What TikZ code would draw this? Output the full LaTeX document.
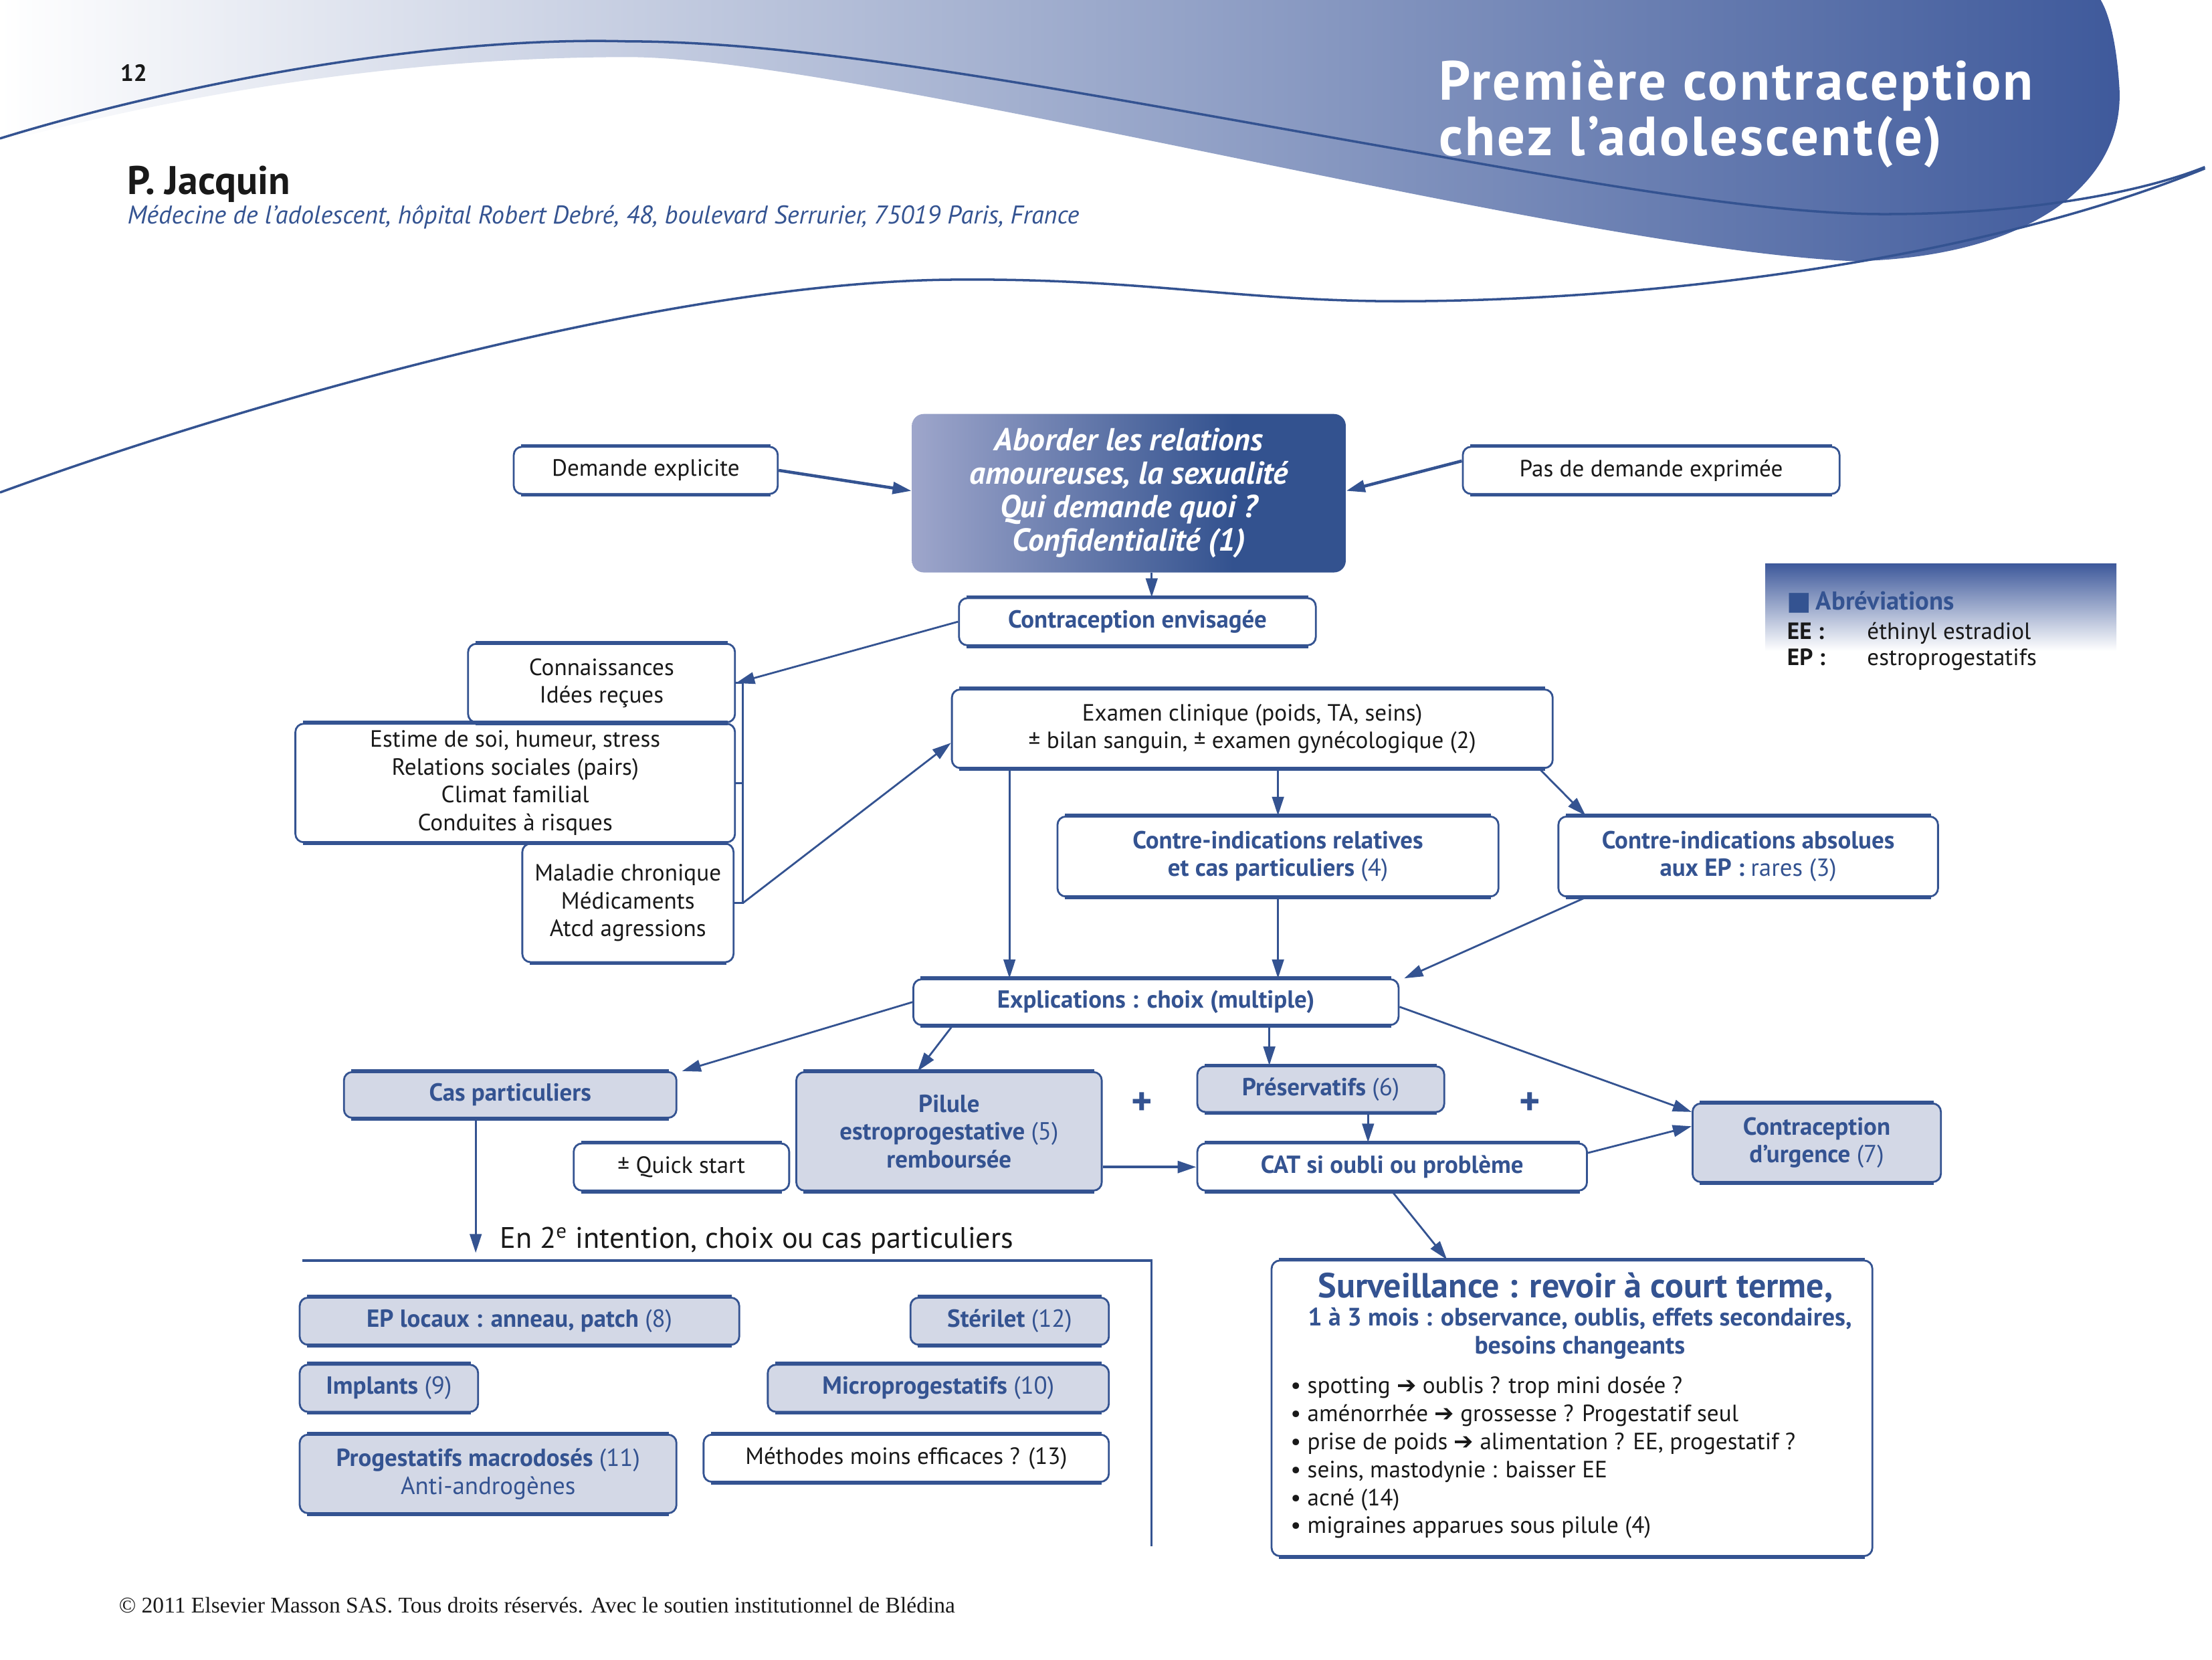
\documentclass[tikz,border=0pt]{standalone}
\usepackage{fontspec}
\setmainfont{PT Sans}
\newfontfamily\symf{DejaVu Sans}
\newfontfamily\serf{Liberation Serif}
\newfontfamily\ttlf[LetterSpace=4]{PT Sans}
\usetikzlibrary{arrows.meta,calc}
\definecolor{mb}{RGB}{52,83,145}
\definecolor{lf}{RGB}{211,216,230}
\definecolor{hdr}{RGB}{62,89,155}
\definecolor{abL}{RGB}{158,166,203}
\definecolor{abD}{RGB}{51,82,143}
\definecolor{txt}{RGB}{25,25,25}
\pgfdeclarehorizontalshading{abord}{100bp}{color(0bp)=(abL); color(25bp)=(abL); color(62bp)=(abD); color(100bp)=(abD)}
\pgfdeclareverticalshading{abrev}{100bp}{color(0bp)=(white); color(40bp)=(white); color(75bp)=(hdr); color(100bp)=(hdr)}
\newcommand\bx[7]{\node[#6, minimum width={(#4-#2)*0.021335cm}, minimum height={(#5-#3)*0.021335cm}] (#1) at ({(#2+#4)/2},{(#3+#5)/2}) {#7};}
\tikzset{
  bxw/.style={draw=mb, line width=0.8pt, rounded corners=3.5pt, inner sep=1pt, align=center,
    font=\fontsize{10}{11.8}\selectfont, text=txt, fill=white},
  bxb/.style={bxw, text=mb, font=\fontsize{10.5}{11.8}\selectfont\bfseries},
  bxf/.style={bxb, fill=lf},
  arr/.style={draw=mb, line width=0.8pt, -{Triangle[length=8pt,width=5pt]}},
  arrt/.style={arr, line width=1.3pt},
  thk/.style={draw=mb, line width=1.6pt},
}
\begin{document}
\begin{tikzpicture}[x=0.021335cm,y=-0.021335cm]
\useasboundingbox (0,0) rectangle (1550,1162.4);
% header band
\shade[left color=white, right color=hdr] (0,0) -- (1472,0)
  .. controls (1478,10) and (1483,30) .. (1485,60)
  .. controls (1490,130) and (1420,180) .. (1300,183)
  .. controls (1100,175) and (600,40) .. (440,40)
  .. controls (300,40) and (150,60) .. (0,100) -- cycle;
\draw[mb, line width=1pt] (0,97) .. controls (120,60) and (300,25) .. (440,29)
  .. controls (580,29) and (780,70) .. (1000,108)
  .. controls (1150,135) and (1250,150) .. (1320,150)
  .. controls (1420,150) and (1500,135) .. (1545,117);
\draw[mb, line width=1pt] (0,345) .. controls (150,290) and (450,200) .. (660,196)
  .. controls (800,194) and (870,212) .. (990,211)
  .. controls (1150,210) and (1380,185) .. (1545,118);
\node[anchor=base west, inner sep=0, font=\fontsize{10}{12}\selectfont\bfseries, text=txt] (pg) at (84,57) {12};
\node[anchor=base west, inner sep=0, font=\ttlf\fontsize{23.5}{22}\selectfont\bfseries, text=white] (t1) at (1008,70) {Première contraception};
\node[anchor=base west, inner sep=0, font=\ttlf\fontsize{23.5}{22}\selectfont\bfseries, text=white] (t2) at (1008,109) {chez l’adolescent(e)};
\node[anchor=base west, inner sep=0, font=\fontsize{17}{20}\selectfont\bfseries, text=txt] (au) at (89,136) {P. Jacquin};
\node[anchor=base west, inner sep=0, font=\fontsize{10.9}{12}\selectfont\itshape, text=mb] (af) at (89,157) {Médecine de l’adolescent, hôpital Robert Debré, 48, boulevard Serrurier, 75019 Paris, France};
% abbreviations
\shade[shading=abrev] (1237,395) rectangle (1483,482);
\node[anchor=base west, inner sep=0, font=\fontsize{11}{13}\selectfont\bfseries, text=mb] (abt) at (1252,427) {{\symf ■}\,Abréviations};
\node[anchor=base west, inner sep=0, font=\fontsize{10}{12}\selectfont\bfseries, text=txt] (ee) at (1252,448) {EE :};
\node[anchor=base west, inner sep=0, font=\fontsize{10}{12}\selectfont, text=txt] (eet) at (1308,448) {éthinyl estradiol};
\node[anchor=base west, inner sep=0, font=\fontsize{10}{12}\selectfont\bfseries, text=txt] (ep) at (1252,466) {EP :};
\node[anchor=base west, inner sep=0, font=\fontsize{10}{12}\selectfont, text=txt] (ept) at (1308,466) {estroprogestatifs};
% top
\node[shade, shading=abord, rounded corners=5pt, minimum width={304*0.021335cm}, minimum height={111*0.021335cm}, align=center, text=white, font=\fontsize{13.5}{14.2}\selectfont\bfseries\itshape] (abo) at (791,345.5) {Aborder les relations\\amoureuses, la sexualité\\Qui demande quoi ?\\Confidentialité (1)};
\bx{dem}{360}{313}{545}{346}{bxw}{Demande explicite}
\bx{pas}{1025}{313}{1289}{346}{bxw}{Pas de demande exprimée}
\bx{cenv}{672}{419}{922}{452}{bxb}{Contraception envisagée}
\bx{conn}{328}{451}{515}{506}{bxw}{Connaissances\\Idées reçues}
\bx{est}{207}{507}{515}{590}{bxw}{Estime de soi, humeur, stress\\Relations sociales (pairs)\\Climat familial\\Conduites à risques}
\bx{mal}{366}{591}{514}{674}{bxw}{Maladie chronique\\Médicaments\\Atcd agressions}
\bx{exam}{667}{483}{1088}{538}{bxw}{Examen clinique (poids, TA, seins)\\± bilan sanguin, ± examen gynécologique (2)}
\bx{rel}{741}{572}{1050}{628}{bxb}{Contre-indications relatives\\et cas particuliers {\mdseries(4)}}
\bx{abs}{1092}{572}{1358}{628}{bxb}{Contre-indications absolues\\aux EP : {\mdseries rares (3)}}
\bx{expl}{640}{686}{980}{718}{bxb}{Explications : choix (multiple)}
\bx{cas}{241}{751}{474}{783}{bxf}{Cas particuliers}
\bx{pil}{558}{751}{772}{834}{bxf}{Pilule\\estroprogestative {\mdseries(5)}\\remboursée}
\bx{pres}{839}{747}{1012}{779}{bxf}{Préservatifs {\mdseries(6)}}
\bx{cat}{839}{801}{1112}{834}{bxb}{CAT si oubli ou problème}
\bx{urg}{1186}{773}{1360}{828}{bxf}{Contraception\\d’urgence {\mdseries(7)}}
\bx{qs}{402}{801}{553}{834}{bxw}{± Quick start}
\node[text=mb, font=\fontsize{17}{17}\selectfont\bfseries] (p1) at (800,773) {+};
\node[text=mb, font=\fontsize{17}{17}\selectfont\bfseries] (p2) at (1072,773) {+};
\bx{eploc}{210}{909}{518}{942}{bxf}{EP locaux : anneau, patch {\mdseries(8)}}
\bx{ster}{638}{909}{777}{942}{bxf}{Stérilet {\mdseries(12)}}
\bx{impl}{210}{956}{335}{989}{bxf}{Implants {\mdseries(9)}}
\bx{micro}{538}{956}{777}{989}{bxf}{Microprogestatifs {\mdseries(10)}}
\bx{macro}{210}{1005}{474}{1060}{bxf}{Progestatifs macrodosés {\mdseries(11)}\\{\mdseries Anti-androgènes}}
\bx{meth}{493}{1005}{777}{1038}{bxw}{Méthodes moins efficaces ? (13)}
\bx{surv}{891}{883}{1312}{1090}{bxw}{}
\node[text=mb, inner sep=0, font=\fontsize{14.8}{16}\selectfont\bfseries] (svt) at (1104,902) {Surveillance : revoir à court terme,};
\node[text=mb, inner sep=0, align=center, font=\fontsize{10.7}{11.9}\selectfont\bfseries] (svs) at (1107,934) {1 à 3 mois : observance, oublis, effets secondaires,\\besoins changeants};
\node[anchor=north west, inner sep=0, align=left, text=txt, font=\fontsize{10}{11.9}\selectfont] (svb) at (904,964) {• spotting {\symf ➔} oublis ? trop mini dosée ?\\• aménorrhée {\symf ➔} grossesse ? Progestatif seul\\• prise de poids {\symf ➔} alimentation ? EE, progestatif ?\\• seins, mastodynie : baisser EE\\• acné (14)\\• migraines apparues sous pilule (4)};
% thick top and bottom borders
\foreach \n in {dem,pas,cenv,conn,est,mal,exam,rel,abs,expl,cas,pil,pres,cat,urg,qs,eploc,ster,impl,micro,macro,meth,surv}{
  \draw[thk] ([xshift=3.5pt]\n.north west) -- ([xshift=-3.5pt]\n.north east);
  \draw[thk] ([xshift=3.5pt]\n.south west) -- ([xshift=-3.5pt]\n.south east);
}
% connectors
\draw[arrt] (dem.east) -- ([yshift=1pt]abo.west);
\draw[arrt] ([yshift=4pt]pas.west) -- ([yshift=1pt]abo.east);
\draw[arr] ([xshift={16*0.021335cm}]abo.south) -- ([xshift={16*0.021335cm}]abo.south |- cenv.north);
\draw[arr] (cenv.west) -- (conn.east);
\draw[mb, line width=0.8pt] (conn.east) -- ++(5,0) coordinate (brkT) -- (brkT |- mal.east) coordinate (brkB) -- (mal.east);
\draw[mb, line width=0.8pt] (est.east) -- (brkT |- est.east);
\draw[arr] (brkB) -- ([yshift=-6pt]exam.west);
\draw[arr] ([xshift={41*0.021335cm}]exam.south west) -- ([xshift={41*0.021335cm}]exam.south west |- expl.north);
\draw[arr] (rel.north |- exam.south) -- (rel.north);
\draw[arr] ([xshift=-6pt]exam.south east) -- ([xshift=12pt]abs.north west);
\draw[arr] (rel.south) -- (rel.south |- expl.north);
\draw[arr] ([xshift=12pt]abs.south west) -- ([xshift=2pt]expl.north east);
\draw[arr] (expl.west) -- ([xshift=2pt]cas.north east);
\draw[arr] ([xshift=17pt]expl.south west) -- ([xshift=52pt]pil.north west);
\draw[arr] ([xshift=31pt]pres.north west |- expl.south) -- ([xshift=31pt]pres.north west);
\draw[arr] ([yshift=-2pt]expl.east) -- ([yshift=-4pt]urg.north west);
\draw[arr] ([xshift=73pt]pres.south west) -- ([xshift=73pt]cat.north west);
\draw[arrt] (pil.east |- cat.west) -- (cat.west);
\draw[arr] ([yshift=6pt]cat.east) -- ([yshift=7pt]urg.west);
\draw[arr] (cat.south) -- ([xshift=75pt]surv.north west);
\node[anchor=west, inner sep=0, text=txt, font=\fontsize{12.6}{14}\selectfont] (ent) at (350,869) {En 2\textsuperscript{e} intention, choix ou cas particuliers};
\coordinate (c2) at ($(cas.south west)+(93,94)$);
\draw[arr] (c2 |- cas.south) -- (c2);
\coordinate (lA) at (212,883);
\coordinate (lB) at (807,883);
\coordinate (lC) at (807,1083);
\draw[mb, line width=0.9pt] (lA) -- (lB) -- (lC);
% footer
\node[anchor=base west, inner sep=0, text=txt, font=\serf\fontsize{9.55}{11}\selectfont] (ft) at (83,1130) {© 2011 Elsevier Masson SAS. Tous droits réservés. Avec le soutien institutionnel de Blédina};
\end{tikzpicture}
\end{document}
